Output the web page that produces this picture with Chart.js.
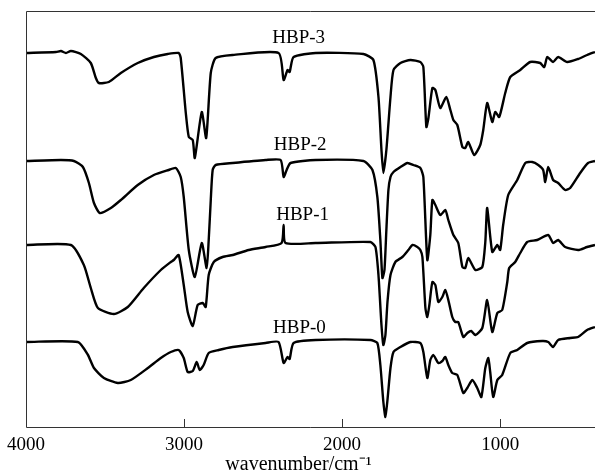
<!DOCTYPE html>
<html>
<head>
<meta charset="utf-8">
<script src="https://cdn.jsdelivr.net/npm/chart.js@4/dist/chart.umd.min.js"></script>
<style>
  html, body { margin: 0; padding: 0; background: #fff; }
  #wrap { width: 595px; height: 474px; }
</style>
</head>
<body>
<div id="wrap"><canvas id="ftir" width="595" height="474"></canvas></div>
<script>
// tick labels on the wavenumber axis
const xTicks = [4000, 3000, 2000, 1000];

// HBP-3 (top trace)
const hbp3Wave = [4000, 3810, 3779, 3747, 3716, 3653, 3590, 3558, 3539, 3476, 3400, 3293, 3191, 3103, 3034, 3021, 2989, 2970, 2945, 2932, 2888, 2860, 2831, 2800, 2692, 2402, 2370, 2345, 2332, 2307, 2168, 1865, 1802, 1770, 1751, 1739, 1720, 1694, 1675, 1631, 1568, 1505, 1486, 1467, 1454, 1429, 1410, 1379, 1341, 1315, 1296, 1271, 1239, 1221, 1202, 1164, 1126, 1107, 1082, 1050, 1031, 1006, 968, 936, 873, 810, 747, 721, 702, 665, 633, 576, 507, 450, 400];
const hbp3Val = [374, 375, 376, 374, 376, 373, 364, 349, 344, 345, 354, 364, 370, 373, 374, 369, 314, 290, 287, 269, 315, 289, 354, 369, 372, 374, 347, 357, 355, 370, 374, 373, 367, 330, 277, 254, 277, 330, 357, 364, 367, 365, 360, 300, 309, 339, 337, 319, 330, 317, 307, 302, 280, 279, 285, 272, 282, 297, 324, 305, 315, 310, 334, 350, 357, 365, 364, 360, 370, 365, 370, 365, 368, 372, 375];

// HBP-2
const hbp2Wave = [4000, 3779, 3697, 3640, 3602, 3570, 3533, 3463, 3400, 3293, 3191, 3097, 3052, 3021, 3002, 2970, 2932, 2888, 2857, 2844, 2831, 2819, 2800, 2692, 2484, 2389, 2370, 2351, 2326, 2168, 1865, 1808, 1777, 1758, 1745, 1732, 1720, 1707, 1694, 1675, 1631, 1587, 1549, 1505, 1486, 1461, 1442, 1429, 1410, 1379, 1347, 1328, 1296, 1265, 1239, 1221, 1202, 1157, 1113, 1094, 1082, 1050, 1018, 1000, 981, 949, 892, 841, 797, 759, 728, 715, 696, 665, 633, 589, 557, 494, 444, 400];
const hbp2Val = [266, 267, 266, 260, 244, 224, 214, 219, 227, 242, 252, 257, 259, 250, 230, 177, 150, 184, 159, 187, 227, 257, 262, 264, 267, 267, 250, 257, 264, 267, 266, 257, 230, 187, 149, 157, 197, 237, 250, 255, 260, 264, 262, 259, 250, 167, 192, 227, 222, 212, 217, 207, 192, 184, 160, 159, 169, 157, 160, 185, 219, 175, 182, 177, 202, 232, 247, 264, 265, 262, 257, 245, 260, 247, 244, 237, 239, 254, 264, 266];

// HBP-1
const hbp1Wave = [4000, 3716, 3634, 3590, 3545, 3444, 3356, 3255, 3147, 3084, 3065, 3034, 3002, 2977, 2945, 2914, 2882, 2863, 2844, 2812, 2756, 2692, 2591, 2484, 2383, 2370, 2358, 2168, 1821, 1789, 1770, 1751, 1739, 1726, 1713, 1694, 1663, 1619, 1581, 1555, 1524, 1505, 1492, 1473, 1461, 1448, 1429, 1410, 1391, 1366, 1347, 1328, 1303, 1284, 1265, 1233, 1208, 1183, 1157, 1113, 1082, 1050, 1018, 987, 955, 943, 905, 873, 829, 766, 696, 665, 633, 589, 507, 450, 400];
const hbp1Val = [182, 182, 162, 139, 119, 113, 120, 139, 157, 165, 167, 172, 142, 115, 101, 122, 124, 120, 152, 165, 170, 172, 177, 180, 184, 202, 184, 184, 185, 180, 152, 102, 82, 92, 125, 152, 165, 170, 177, 182, 180, 177, 170, 119, 110, 122, 145, 142, 125, 130, 137, 127, 110, 105, 105, 90, 94, 96, 92, 99, 127, 95, 114, 117, 145, 159, 165, 174, 185, 187, 192, 184, 187, 180, 177, 180, 182];

// HBP-0 (bottom trace)
const hbp0Wave = [4000, 3672, 3608, 3570, 3507, 3419, 3337, 3229, 3147, 3084, 3034, 3002, 2977, 2945, 2920, 2901, 2876, 2844, 2781, 2692, 2484, 2402, 2370, 2345, 2332, 2307, 2168, 1821, 1777, 1758, 1739, 1726, 1713, 1694, 1675, 1631, 1568, 1505, 1486, 1461, 1442, 1423, 1391, 1366, 1347, 1328, 1303, 1271, 1233, 1208, 1176, 1145, 1119, 1094, 1075, 1063, 1044, 1018, 987, 936, 892, 829, 734, 696, 665, 633, 557, 507, 450, 400];
const hbp0Val = [85, 85, 72, 59, 49, 44, 47, 59, 69, 75, 77, 69, 55, 56, 65, 57, 62, 74, 77, 80, 84, 85, 64, 70, 68, 84, 87, 87, 84, 62, 25, 10, 27, 59, 75, 80, 85, 84, 75, 49, 67, 72, 64, 66, 70, 62, 54, 52, 34, 39, 47, 39, 30, 59, 69, 55, 30, 47, 52, 74, 77, 84, 86, 85, 80, 87, 89, 90, 97, 100];

// trace names and where they are written
const traceNames = ['HBP-3', 'HBP-2', 'HBP-1', 'HBP-0'];
const nameWave = [2275, 2265, 2250, 2270];
const nameVal = [389, 282, 212, 99];

const axisTitle = 'wavenumber/cm\u207B\u00B9';

function pairs(w, v) {
    return w.map((x, i) => ({ x: x, y: v[i] }));
}

const traces = [[hbp3Wave, hbp3Val], [hbp2Wave, hbp2Val], [hbp1Wave, hbp1Val], [hbp0Wave, hbp0Val]];

const serif = '"Liberation Serif", "Times New Roman", serif';

const frame = {
    id: 'frame',
    afterDraw(chart) {
        const ctx = chart.ctx;
        const a = chart.chartArea;
        const xs = chart.scales.x;
        const ys = chart.scales.y;
        ctx.save();
        ctx.strokeStyle = '#333';
        ctx.lineWidth = 1;
        ctx.beginPath();
        ctx.moveTo(a.right, a.top + 0.5);
        ctx.lineTo(a.left + 0.5, a.top + 0.5);
        ctx.lineTo(a.left + 0.5, a.bottom + 0.5);
        ctx.lineTo(a.right, a.bottom + 0.5);
        xTicks.forEach(t => {
            const px = Math.round(xs.getPixelForValue(t)) + 0.5;
            ctx.moveTo(px, a.bottom);
            ctx.lineTo(px, a.bottom - 8);
        });
        ctx.stroke();

        ctx.fillStyle = '#000';
        ctx.font = '19px ' + serif;
        ctx.textAlign = 'center';
        ctx.textBaseline = 'middle';
        traceNames.forEach((n, i) => {
            ctx.fillText(n, xs.getPixelForValue(nameWave[i]), ys.getPixelForValue(nameVal[i]));
        });

        // axis title, centred a little left of the plot middle as in the original
        ctx.font = '20px ' + serif;
        ctx.fillText(axisTitle, (a.left + a.right) / 2 - 12, a.bottom + 38);
        ctx.restore();
    }
};

new Chart(document.getElementById('ftir'), {
    type: 'line',
    data: {
        datasets: traces.map((t, i) => ({
            label: traceNames[i],
            data: pairs(t[0], t[1]),
            borderColor: '#000',
            borderWidth: 2.4,
            pointRadius: 0,
            tension: 0.2,
            fill: false
        }))
    },
    options: {
        responsive: false,
        animation: false,
        layout: { padding: { left: 25, top: 11, right: 0, bottom: 0 } },
        plugins: {
            legend: { display: false },
            tooltip: { enabled: false }
        },
        scales: {
            x: {
                type: 'linear',
                reverse: true,
                min: 400,
                max: 4000,
                afterBuildTicks: (s) => { s.ticks = xTicks.map(v => ({ value: v })); },
                afterFit: (s) => { s.height = 47; },
                grid: { display: false, drawTicks: false },
                border: { display: false },
                ticks: {
                    color: '#000',
                    padding: 7,
                    maxRotation: 0,
                    autoSkip: false,
                    callback: (v) => String(v),
                    font: { family: serif, size: 19 }
                },
                title: { display: false }
            },
            y: {
                display: false,
                min: 0,
                max: 416
            }
        }
    },
    plugins: [frame]
});
</script>
</body>
</html>
